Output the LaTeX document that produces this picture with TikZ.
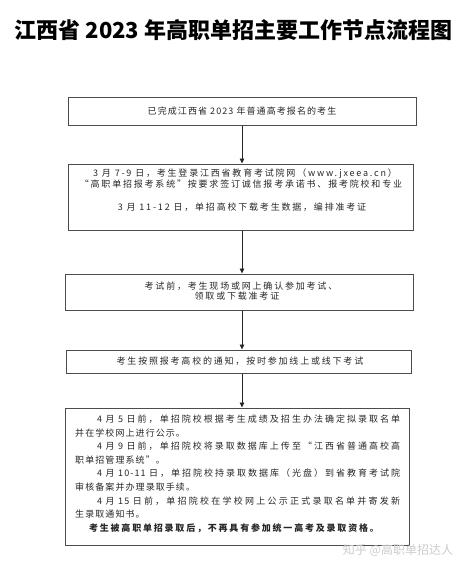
\documentclass[tikz,border=0pt]{standalone}
\usepackage{fontspec}
\usetikzlibrary{arrows.meta}
\newfontfamily\cjk{Noto Sans CJK SC}
\newfontfamily\cjkA[LetterSpace=20]{Noto Sans CJK SC}
\newfontfamily\cjkB[LetterSpace=12]{Noto Sans CJK SC}
\newcommand\myfs[2]{\fontsize{#1}{#2}\selectfont}
\newXeTeXintercharclass\cjkcls
\count255="4E00
\loop
  \XeTeXcharclass\count255=\cjkcls
  \advance\count255 by 1
\ifnum\count255<"A000 \repeat
\count255="3000
\loop
  \XeTeXcharclass\count255=\cjkcls
  \advance\count255 by 1
\ifnum\count255<"3040 \repeat
\count255="FF00
\loop
  \XeTeXcharclass\count255=\cjkcls
  \advance\count255 by 1
\ifnum\count255<"FF20 \repeat
\XeTeXcharclass"201C=\cjkcls
\XeTeXcharclass"201D=\cjkcls
\XeTeXinterchartoks\cjkcls\cjkcls={\hskip 0pt plus 1fil\relax}
\newcommand\jline[1]{\makebox[303pt][s]{\XeTeXinterchartokenstate=1 \spaceskip=3.5pt\relax #1}}
\begin{document}
\begin{tikzpicture}[x=1pt,y=-1pt,
  boxst/.style={draw=black!70, line width=1pt, inner sep=0pt},
  txt/.style={inner sep=0pt, text=black!85},
  ltxt/.style={txt, anchor=west, font=\cjkB\myfs{9}{10}},
  arr/.style={draw=black!85, line width=0.9pt, -{Triangle[length=5pt,width=4.5pt]}}]
\useasboundingbox (0,0) rectangle (474,571);
\node[inner sep=0pt, font=\cjk\bfseries\myfs{22}{24}] (title) at (233.5,30) {江西省 2023 年高职单招主要工作节点流程图};
% boxes
\node[boxst, minimum width=348pt, minimum height=28pt] (b1) at (242,111) {};
\node[boxst, minimum width=345pt, minimum height=66pt] (b2) at (240.5,197) {};
\node[boxst, minimum width=348pt, minimum height=36pt] (b3) at (239,292) {};
\node[boxst, minimum width=345pt, minimum height=23pt] (b4) at (238.5,361.5) {};
\node[boxst, minimum width=344pt, minimum height=137pt] (b5) at (237,476.5) {};
% arrows
\draw[arr] (b1.south) -- (b2.north -| b1.south);
\draw[arr] (b2.south -| b1.south) -- (b3.north -| b1.south);
\draw[arr] (b3.south -| b1.south) -- (b4.north -| b1.south);
\draw[arr] (b4.south -| b1.south) -- (b5.north -| b1.south);
% texts
\node[txt, font=\cjkB\myfs{9}{10}] (t1) at (242,111) {已完成江西省 2023 年普通高考报名的考生};
\node[txt, font=\cjkA\myfs{9}{10}] (t2a) at (245,174) {3 月 7-9 日，考生登录江西省教育考试院网（www.jxeea.cn）};
\node[txt, font=\cjkA\myfs{9}{10}] (t2b) at (241,184.5) {“高职单招报考系统”按要求签订诚信报考承诺书、报考院校和专业};
\node[txt, font=\cjkA\myfs{9}{10}] (t2c) at (242,207) {3 月 11-12 日，单招高校下载考生数据，编排准考证};
\node[txt, font=\cjkA\myfs{9}{10}] (t3a) at (241,286) {考试前，考生现场或网上确认参加考试、};
\node[txt, font=\cjkA\myfs{9}{10}] (t3b) at (237,296) {领取或下载准考证};
\node[txt, font=\cjkA\myfs{9}{10}] (t4) at (240,361) {考生按照报考高校的通知，按时参加线上或线下考试};
\node[ltxt] (t5a) at (97,419) {\jline{4 月 5 日前，单招院校根据考生成绩及招生办法确定拟录取名单}};
\node[ltxt] (t5b) at (75,432.6) {并在学校网上进行公示。};
\node[ltxt] (t5c) at (97,446) {\jline{4 月 9 日前，单招院校将录取数据库上传至“江西省普通高校高}};
\node[ltxt] (t5d) at (75,460) {职单招管理系统”。};
\node[ltxt] (t5e) at (97,473.5) {\jline{4 月 10-11 日，单招院校持录取数据库（光盘）到省教育考试院}};
\node[ltxt] (t5f) at (75,487) {审核备案并办理录取手续。};
\node[ltxt] (t5g) at (97,501) {\jline{4 月 15 日前，单招院校在学校网上公示正式录取名单并寄发新}};
\node[ltxt] (t5h) at (75,514) {生录取通知书。};
\node[txt, font=\cjkA\bfseries\myfs{9}{10}] (t5i) at (234,528) {考生被高职单招录取后，不再具有参加统一高考及录取资格。};
\node[txt, text=black!20, font=\cjk\myfs{12}{14}] (wm) at (398,550) {知乎 @高职单招达人};
\end{tikzpicture}
\end{document}
